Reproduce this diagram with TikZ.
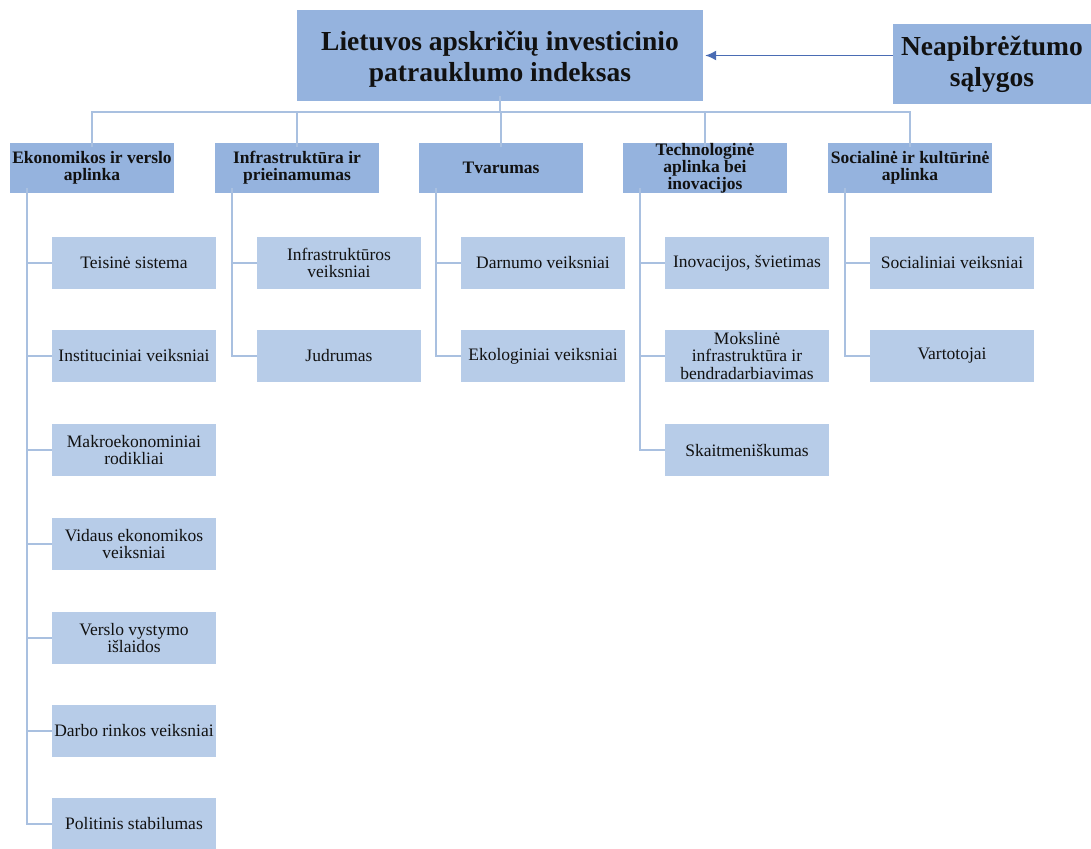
\documentclass[tikz,border=0pt]{standalone}
\usepackage{fontspec}
\setmainfont{Liberation Serif}
\usetikzlibrary{arrows.meta}
\definecolor{boxdark}{HTML}{95B3DE}
\definecolor{boxlight}{HTML}{B7CCE8}
\definecolor{treeline}{HTML}{A9C0E0}
\definecolor{arrowblue}{HTML}{4A6CB4}
\definecolor{ink}{HTML}{111111}
\tikzset{
  headbox/.style={fill=boxdark, inner sep=0pt, align=center, text=ink,
    font=\fontsize{27.5}{31}\selectfont\bfseries},
  catbox/.style={fill=boxdark, minimum width=164pt, minimum height=50pt, inner sep=0pt,
    align=center, text=ink, font=\fontsize{17.5}{17}\selectfont\bfseries},
  leafbox/.style={fill=boxlight, minimum width=164pt, minimum height=52pt, inner sep=0pt,
    align=center, text=ink, font=\fontsize{17.5}{17.5}\selectfont},
  treeedge/.style={draw=treeline, line width=1.6pt},
  mainarrow/.style={draw=arrowblue, line width=1.5pt, -{Latex[length=11pt,width=10pt]}, shorten >=2pt},
}
\begin{document}
\begin{tikzpicture}[x=1pt,y=-1pt]
\useasboundingbox (0,0) rectangle (1091,848);
% header
\node[headbox, minimum width=406pt, minimum height=91pt] (top) at (500,55.5)
  {\rule{0pt}{27pt}Lietuvos apskričių investicinio\\patrauklumo indeksas};
\node[headbox, minimum width=198pt, minimum height=80pt] (np) at (992,64)
  {Neapibrėžtumo\\sąlygos};
\draw[mainarrow] (np.west |- top.east) -- (top.east);
% categories
\node[catbox] (c1) at (92,168) {Ekonomikos ir verslo\\aplinka};
\node[catbox] (c2) at (297,168) {Infrastruktūra ir\\prieinamumas};
\node[catbox] (c3) at (501,168) {Tvarumas};
\node[catbox] (c4) at (705,168) {Technologinė\\aplinka bei\\inovacijos};
\node[catbox] (c5) at (910,168) {Socialinė ir kultūrinė\\aplinka};
\foreach \c in {c1,c2,c3,c4,c5}{
  \draw[treeedge] ([yshift=5pt]top.south) -- ++(0,16) -| ([yshift=-4pt]\c.north);
}
% leaves column 1
\node[leafbox] (l11) at (134,263) {Teisinė sistema};
\node[leafbox] (l12) at (134,356) {Instituciniai veiksniai};
\node[leafbox] (l13) at (134,450) {Makroekonominiai\\rodikliai};
\node[leafbox] (l14) at (134,544) {Vidaus ekonomikos\\veiksniai};
\node[leafbox] (l15) at (134,638) {Verslo vystymo\\išlaidos};
\node[leafbox] (l16) at (134,731) {Darbo rinkos veiksniai};
\node[leafbox] (l17) at (134,824) {Politinis stabilumas};
% column 2
\node[leafbox] (l21) at (339,263) {Infrastruktūros\\veiksniai};
\node[leafbox] (l22) at (339,356) {Judrumas};
% column 3
\node[leafbox] (l31) at (543,263) {Darnumo veiksniai};
\node[leafbox] (l32) at (543,356) {Ekologiniai veiksniai};
% column 4
\node[leafbox] (l41) at (747,263) {Inovacijos, švietimas};
\node[leafbox] (l42) at (747,356) {Mokslinė\\infrastruktūra ir\\bendradarbiavimas};
\node[leafbox] (l43) at (747,450) {Skaitmeniškumas};
% column 5
\node[leafbox] (l51) at (952,263) {Socialiniai veiksniai};
\node[leafbox] (l52) at (952,356) {Vartotojai};
% tree edges
\foreach \l in {l11,l12,l13,l14,l15,l16,l17}{
  \draw[treeedge] ([xshift=-65pt,yshift=5pt]c1.south) |- (\l.west);
}
\foreach \l in {l21,l22}{
  \draw[treeedge] ([xshift=-65pt,yshift=5pt]c2.south) |- (\l.west);
}
\foreach \l in {l31,l32}{
  \draw[treeedge] ([xshift=-65pt,yshift=5pt]c3.south) |- (\l.west);
}
\foreach \l in {l41,l42,l43}{
  \draw[treeedge] ([xshift=-65pt,yshift=5pt]c4.south) |- (\l.west);
}
\foreach \l in {l51,l52}{
  \draw[treeedge] ([xshift=-65pt,yshift=5pt]c5.south) |- (\l.west);
}
\end{tikzpicture}
\end{document}
